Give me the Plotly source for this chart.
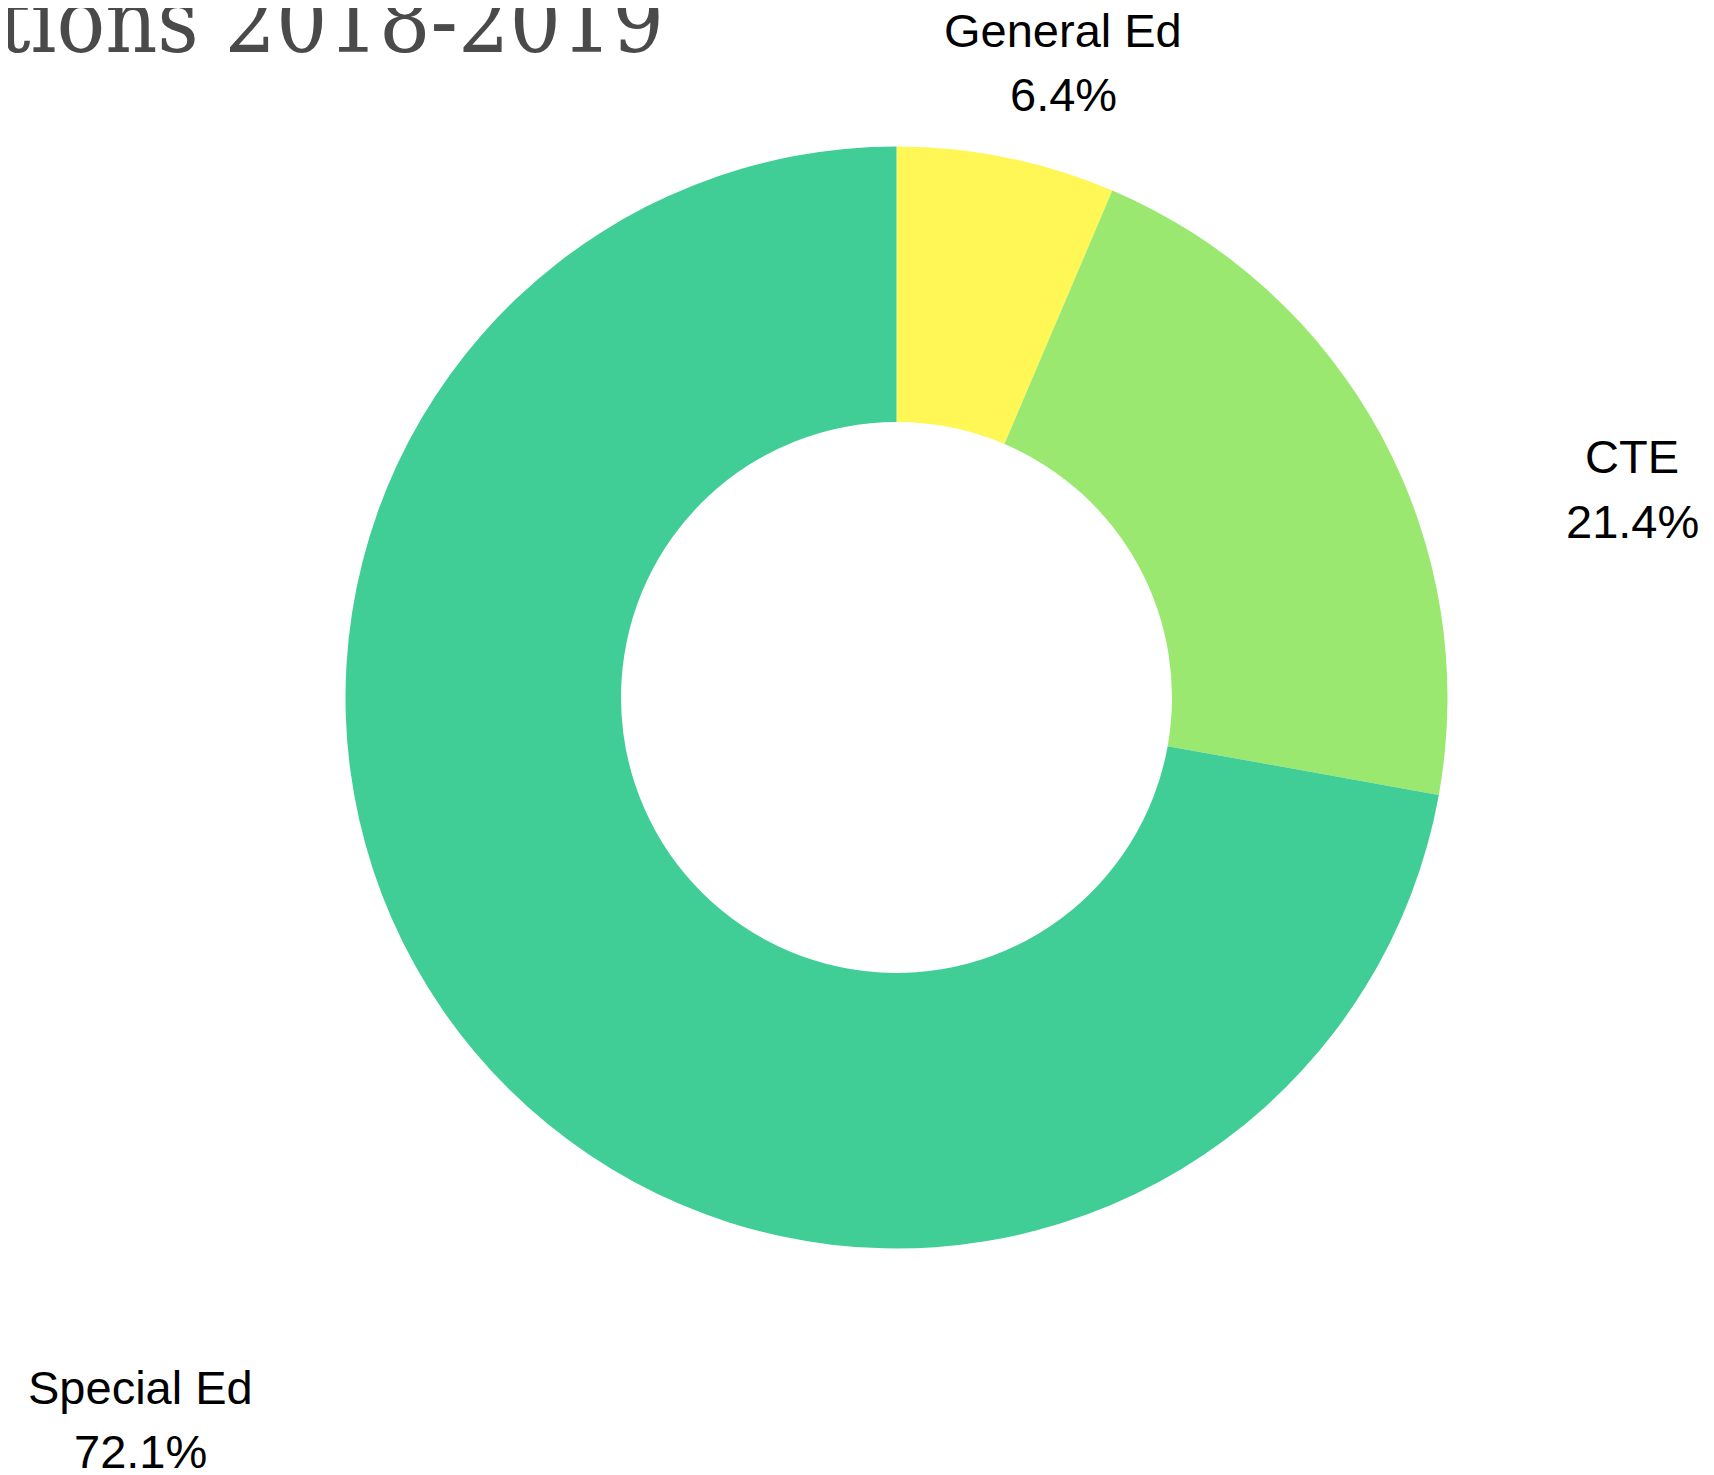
import plotly.graph_objects as go

# ---- data ----
categories = ["General Ed", "CTE", "Special Ed"]
percentages = [6.4, 21.4, 72.1]
slice_colors = ["#FFF755", "#9BE871", "#41CE96"]
title_text = "tions 2018-2019"

W, H = 1714, 1475
OFF = 8  # page body margin offset

# pie geometry (pixels, as seen on the page)
cx, cy, r = 896.5 - OFF, 697.5 - OFF, 551.0

fig = go.Figure()
fig.add_trace(go.Pie(
    labels=categories,
    values=percentages,
    marker=dict(colors=slice_colors, line=dict(width=0)),
    hole=0.5,
    sort=False,
    direction="clockwise",
    rotation=0,
    textinfo="none",
    hoverinfo="label+percent",
    domain=dict(x=[(cx - r) / W, (cx + r) / W],
                y=[(H - cy - r) / H, (H - cy + r) / H]),
))

# label placement: x centre and baselines of the two text lines (page pixels)
label_pos = {
    "General Ed": (1063, 47, 111),
    "CTE": (1632, 473, 538),
    "Special Ed": (140, 1404, 1468),
}
LFS = 47
MID = 0.35 * LFS  # baseline -> visual middle of a line box

label_font = dict(family="Liberation Sans, Arial, sans-serif", size=LFS, color="#000000")
annotations = []
for cat, pct in zip(categories, percentages):
    px, b1, b2 = label_pos[cat]
    for txt, base in ((cat, b1), (f"{pct:.1f}%", b2)):
        annotations.append(dict(
            text=txt,
            x=(px - OFF) / W, y=1 - (base - MID - OFF) / H,
            xref="paper", yref="paper",
            xanchor="center", yanchor="middle", showarrow=False,
            font=label_font,
        ))

annotations.append(dict(
    text=title_text,
    x=(666 - OFF) / W, y=1 - (75 - OFF) / H, xref="paper", yref="paper",
    xanchor="right", yanchor="bottom", showarrow=False,
    font=dict(family="DejaVu Serif Condensed, DejaVu Serif, serif", size=90, color="#4a4a4a"),
))

fig.update_layout(
    width=W, height=H,
    margin=dict(l=0, r=0, t=0, b=0),
    paper_bgcolor="#ffffff",
    plot_bgcolor="#ffffff",
    showlegend=False,
    annotations=annotations,
)

fig.write_html("out.html")
